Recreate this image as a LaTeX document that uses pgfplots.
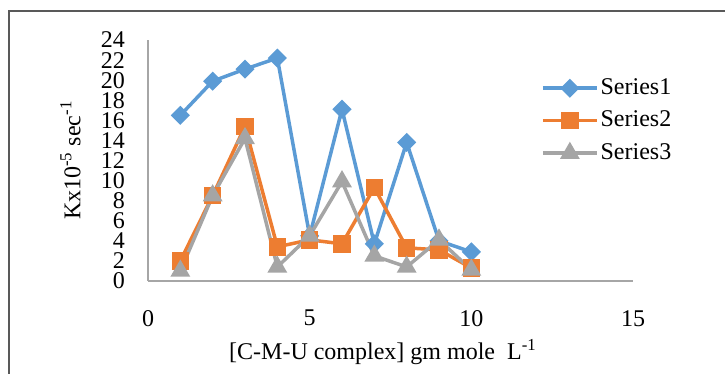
\documentclass[border=0pt]{standalone}
\usepackage{fontspec}
\setmainfont{Liberation Serif}
\usepackage{pgfplots}
\pgfplotsset{compat=1.18}
\definecolor{s1}{HTML}{5B9BD5}
\definecolor{s2}{HTML}{ED7D31}
\definecolor{s3}{HTML}{A5A5A5}
\definecolor{axgray}{HTML}{A6A6A6}
\definecolor{framec}{HTML}{595959}
\begin{document}
\fontsize{24}{28}\selectfont
\begin{tikzpicture}[x=1pt,y=1pt]
\useasboundingbox (0,0) rectangle (725,374);
\begin{scope}
\clip (0,0) rectangle (725,374);
\draw[framec, line width=2pt] (9,-20) -- (9,363) -- (760,363);
\end{scope}
\begin{axis}[
  at={(148pt,93pt)}, anchor=south west,
  scale only axis, width=485pt, height=241pt,
  xmin=0, xmax=15, ymin=0, ymax=24,
  axis x line*=bottom, axis y line*=left,
  axis line style={axgray, line width=1.5pt},
  xtick={0,5,10,15}, ytick={0,2,...,24},
  major tick length=0pt,
  /pgf/number format/assume math mode=true,
  xticklabel style={inner sep=0pt, yshift=-29pt},
  yticklabel style={inner sep=0pt, xshift=-23pt},
  xlabel={[C-M-U complex] gm mole\ \ L\textsuperscript{-1}},
  ylabel={Kx10\textsuperscript{-5} sec\textsuperscript{-1}},
  xlabel style={at={(axis description cs:0.484,0)}, anchor=center, yshift=-71pt},
  ylabel style={at={(axis description cs:-0.16,0.5)}, anchor=center},
  legend style={draw=none, fill=none, at={(axis description cs:0.804,0.665)}, anchor=west, row sep=9pt},
  legend image code/.code={\draw[mark repeat=2,mark phase=2,#1] plot coordinates {(0pt,0pt)(27pt,0pt)(54pt,0pt)};},
  every axis plot/.append style={line width=3.5pt},
]
\addplot[s1, mark=square*, mark size=5pt, mark options={rotate=45, solid}] coordinates {
(1,16.5)(2,19.9)(3,21.1)(4,22.2)(5,4.5)(6,17.1)(7,3.7)(8,13.8)(9,4.0)(10,2.9)};
\addlegendentry{Series1}
\addplot[s2, mark=square*, mark size=7pt] coordinates {
(1,2.0)(2,8.5)(3,15.4)(4,3.4)(5,4.1)(6,3.7)(7,9.3)(8,3.3)(9,3.1)(10,1.3)};
\addlegendentry{Series2}
\addplot[s3, mark=triangle*, mark size=8pt] coordinates {
(1,1.0)(2,8.5)(3,14.2)(4,1.4)(5,4.5)(6,9.9)(7,2.5)(8,1.4)(9,4.1)(10,1.1)};
\addlegendentry{Series3}
\end{axis}
\end{tikzpicture}
\end{document}
